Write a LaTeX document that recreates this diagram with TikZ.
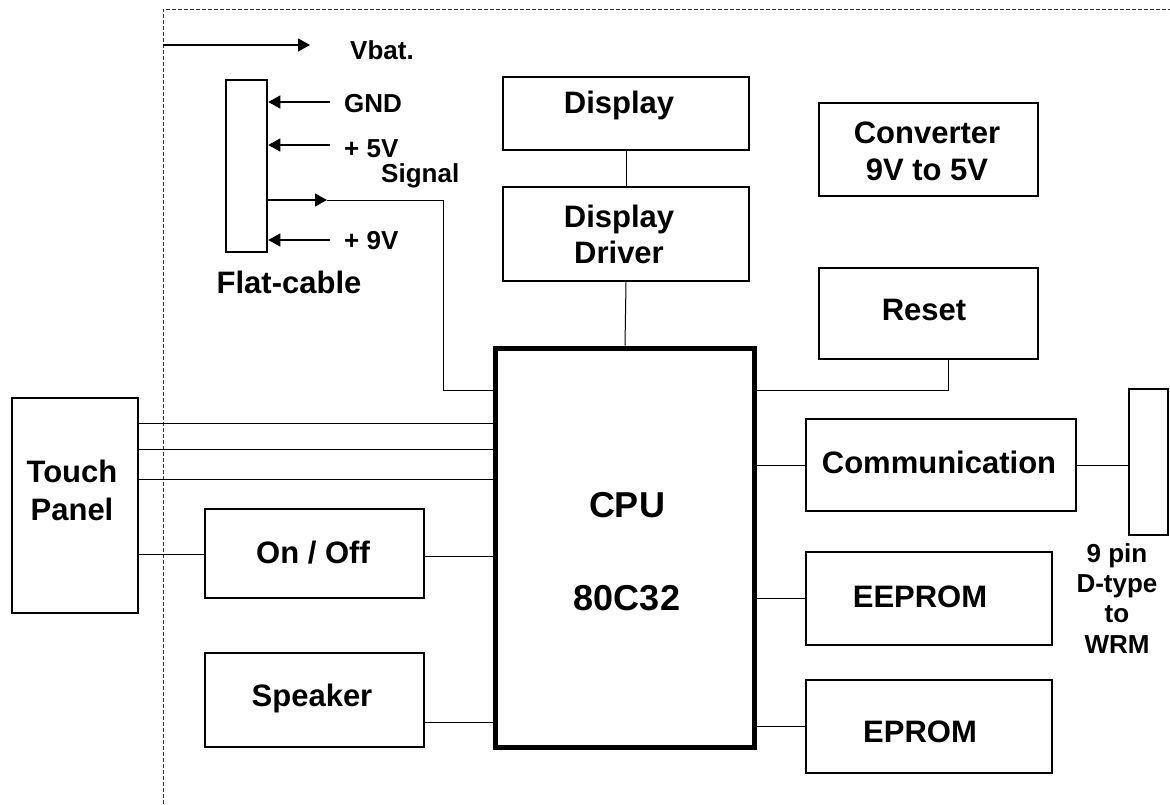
\documentclass[tikz,border=0pt]{standalone}
\usepackage{fontspec}
\setmainfont{Liberation Sans}
\usetikzlibrary{arrows.meta}
\begin{document}
\begin{tikzpicture}[x=1pt,y=-1pt,
  box/.style={draw, line width=2.5pt, rectangle, inner sep=0pt},
  cpubox/.style={draw, line width=5pt, rectangle, inner sep=0pt},
  wire/.style={line width=1pt},
  arr/.style={line width=1.2pt, -{Triangle[length=12pt,width=13pt]}},
  big/.style={font=\fontsize{31}{36}\selectfont\bfseries, inner sep=0pt},
  small/.style={font=\fontsize{26}{31}\selectfont\bfseries, inner sep=0pt},
  huge/.style={font=\fontsize{36}{40}\selectfont\bfseries, inner sep=0pt},
  border/.style={line width=1pt, dash pattern=on 4pt off 2pt, black!80}
]
\useasboundingbox (0,0) rectangle (1170,804);
% dashed enclosure
\coordinate (bTL) at (163,9);
\coordinate (bTR) at (1170,9);
\coordinate (bBL) at (163,804);
\draw[border] (bBL) -- (bTL) -- (bTR);

% boxes
\node[box, minimum width=41pt, minimum height=172pt] (fc) at (246.5,166) {};
\node[box, minimum width=246pt, minimum height=73pt] (display) at (626,113.5) {};
\node[box, minimum width=246pt, minimum height=94pt] (driver) at (626,234) {};
\node[box, minimum width=219pt, minimum height=93pt] (conv) at (928.5,149.5) {};
\node[box, minimum width=219pt, minimum height=91pt] (reset) at (928.5,313.5) {};
\node[cpubox, minimum width=259pt, minimum height=399.5pt] (cpu) at (625,547.75) {};
\node[box, minimum width=270pt, minimum height=92pt] (comm) at (941,465) {};
\node[box, minimum width=39pt, minimum height=146pt] (conn) at (1148.5,462) {};
\node[box, minimum width=246pt, minimum height=93pt] (eeprom) at (929,598.5) {};
\node[box, minimum width=246pt, minimum height=93pt] (eprom) at (929,726.5) {};
\node[box, minimum width=126pt, minimum height=215pt] (touch) at (75,505.5) {};
\node[box, minimum width=219pt, minimum height=89pt] (onoff) at (314.5,553.5) {};
\node[box, minimum width=219pt, minimum height=94pt] (speaker) at (314.5,700) {};

% labels in boxes
\node[big, anchor=base] (tdisp) at (619,113) {Display};
\node[big, anchor=base] (tdrv1) at (619,227) {Display};
\node[big, anchor=base] (tdrv2) at (619,263) {Driver};
\node[big, anchor=base] (tconv1) at (927,143) {Converter};
\node[big, anchor=base] (tconv2) at (927,180) {9V to 5V};
\node[big, anchor=base] (treset) at (924,320) {Reset};
\node[huge, anchor=base] (tcpu1) at (627,517) {CPU};
\node[huge, anchor=base] (tcpu2) at (627,610) {80C32};
\node[big, anchor=base] (tcomm) at (939,473) {Communication};
\node[big, anchor=base] (teeprom) at (920,607) {EEPROM};
\node[big, anchor=base] (teprom) at (920,742) {EPROM};
\node[big, anchor=base] (ttouch1) at (72,482) {Touch};
\node[big, anchor=base] (ttouch2) at (72,520) {Panel};
\node[big, anchor=base] (tonoff) at (313,563) {On / Off};
\node[big, anchor=base] (tspk) at (312,706) {Speaker};
\node[big, anchor=base] (tflat) at (289,293) {Flat-cable};

% small labels
\node[small, anchor=base west] (tvbat) at (350,59) {Vbat.};
\node[small, anchor=base west] (tgnd) at (344,112) {GND};
\node[small, anchor=base west] (t5v) at (344,157) {+ 5V};
\node[small, anchor=base west] (tsig) at (381,182) {Signal};
\node[small, anchor=base west] (t9v) at (344,249) {+ 9V};
\node[small, anchor=base] (tpin1) at (1117,562) {9 pin};
\node[small, anchor=base] (tpin2) at (1117,592) {D-type};
\node[small, anchor=base] (tpin3) at (1117,622) {to};
\node[small, anchor=base] (tpin4) at (1117,653) {WRM};

% power arrows
\coordinate (vbatS) at (163,45);
\coordinate (vbatE) at (310,45);
\draw[arr] (vbatS) -- (vbatE);
\coordinate (gndS) at (330,102);
\coordinate (p5S) at (330,145);
\coordinate (p9S) at (330,240);
\draw[arr] (gndS) -- (fc.east |- gndS);
\draw[arr] (p5S) -- (fc.east |- p5S);
\draw[arr] (p9S) -- (fc.east |- p9S);

% signal line
\coordinate (sigA) at (327,200);
\coordinate (sigB) at (443,200);
\coordinate (sigC) at (443,390);
\draw[arr] (fc.east |- sigA) -- (sigA);
\draw[wire] (sigA) -- (sigB) -- (sigC) -- (cpu.west |- sigC);

% display chain
\draw[wire] (display.south) -- (driver.north);
\draw[wire] (driver.south) -- (cpu.north);

% reset
\coordinate (rst) at (948,390);
\draw[wire] (cpu.east |- rst) -- (rst) -- (rst |- reset.south);

% right side
\draw[wire] (cpu.east |- comm.west) -- (comm.west);
\draw[wire] (comm.east) -- (conn.west |- comm.east);
\draw[wire] (cpu.east |- eeprom.west) -- (eeprom.west);
\draw[wire] (cpu.east |- eprom.west) -- (eprom.west);

% left side
\coordinate (t1) at (0,423);
\coordinate (t2) at (0,449);
\coordinate (t3) at (0,479);
\coordinate (t4) at (0,554);
\coordinate (t5) at (0,556);
\coordinate (t6) at (0,722);
\draw[wire] (touch.east |- t1) -- (cpu.west |- t1);
\draw[wire] (touch.east |- t2) -- (cpu.west |- t2);
\draw[wire] (touch.east |- t3) -- (cpu.west |- t3);
\draw[wire] (touch.east |- t4) -- (onoff.west |- t4);
\draw[wire] (onoff.east |- t5) -- (cpu.west |- t5);
\draw[wire] (speaker.east |- t6) -- (cpu.west |- t6);
\end{tikzpicture}
\end{document}
